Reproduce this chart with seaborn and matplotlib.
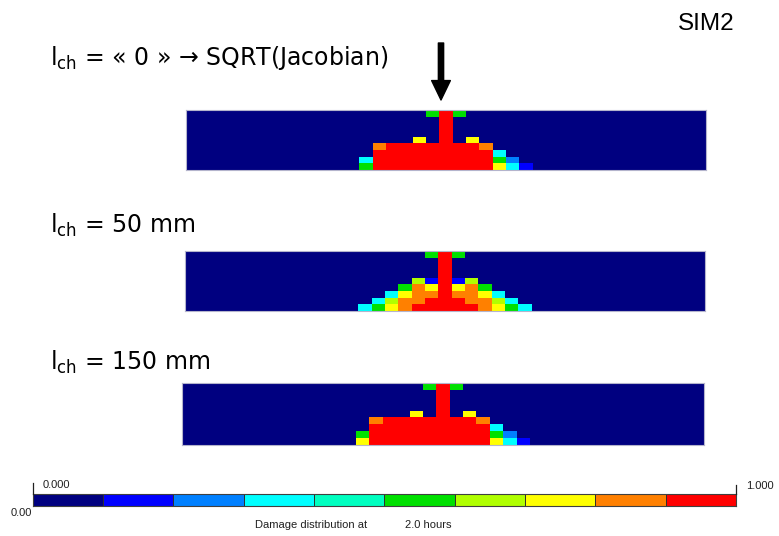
import matplotlib
matplotlib.use("Agg")
import matplotlib.pyplot as plt
import pandas as pd
import seaborn as sns
from matplotlib.colors import ListedColormap

# Damage band per element (0..9 = colour band of the legend), rows top -> bottom.
# Each string covers the middle elements 13..25 of the 39-element-long beam;
# the outer elements are undamaged.
beam_zero_rows = [
    "0000059500000",
    "0000009000000",
    "0000009000000",
    "0000009000000",
    "0000709070000",
    "0899999998000",
    "0999999999300",
    "3999999999520",
    "5999999999731",
]
beam_50mm_rows = [
    "0000059500000",
    "0000009000000",
    "0000009000000",
    "0000009000000",
    "0000619160000",
    "0005879785000",
    "0037889887300",
    "0368899988630",
    "3578999998753",
]
beam_150mm_rows = [
    "0000059500000",
    "0000009000000",
    "0000009000000",
    "0000009000000",
    "0000709070000",
    "0899999998000",
    "0999999999300",
    "5999999999520",
    "7999999999731",
]
beam_labels = [
    r"$l_{ch}$ = « 0 » → SQRT(Jacobian)",
    r"$l_{ch}$ = 50 mm",
    r"$l_{ch}$ = 150 mm",
]
legend_bands = [0, 1, 2, 3, 4, 5, 6, 7, 8, 9]
legend_min_label = "0.000"
legend_max_label = "1.000"
legend_floor_label = "0.00"
time_hours = "2.0"

PAD_COLS = 13
BAND_COLORS = ["#000080", "#0000ff", "#0080ff", "#00ffff", "#00ffc0",
               "#00e000", "#b0ff00", "#ffff00", "#ff8000", "#ff0000"]
W, H = 779, 536


def fig_box(left, top, right, bottom):
    return [left / W, 1 - bottom / H, (right - left) / W, (bottom - top) / H]


def fig_xy(x, y):
    return x / W, 1 - y / H


def rows_to_frame(rows):
    pad = "0" * PAD_COLS
    return pd.DataFrame([[int(ch) for ch in pad + row + pad] for row in rows])


plt.rcParams["font.family"] = ["DejaVu Sans"]
plt.rcParams["mathtext.default"] = "regular"
cmap = ListedColormap(BAND_COLORS)

fig = plt.figure(figsize=(W / 100, H / 100), dpi=100)

beams = [
    (beam_zero_rows, (186, 110, 706, 170), 58),
    (beam_50mm_rows, (185, 251, 705, 311), 225),
    (beam_150mm_rows, (182, 383, 704, 445), 362),
]
for (rows, box, label_y), label in zip(beams, beam_labels):
    ax = fig.add_axes(fig_box(*box))
    sns.heatmap(rows_to_frame(rows), ax=ax, cmap=cmap, vmin=-0.5, vmax=9.5,
                cbar=False, xticklabels=False, yticklabels=False)
    ax.set_xlabel("")
    ax.set_ylabel("")
    for spine in ax.spines.values():
        spine.set_visible(True)
        spine.set_color("#b4b4cc")
        spine.set_linewidth(0.8)
    fig.text(*fig_xy(50, label_y), label, fontsize=17, va="center", ha="left")

fig.text(*fig_xy(735, 24), "SIM2", fontsize=17.5, va="center", ha="right",
         family=["Liberation Sans", "DejaVu Sans"])

# load arrow above the first beam
fig.axes[0].annotate("", xy=fig_xy(441, 100), xytext=fig_xy(441, 43),
                     xycoords="figure fraction", textcoords="figure fraction",
                     annotation_clip=False,
                     arrowprops=dict(facecolor="black", edgecolor="black",
                                     width=3.8, headwidth=13.5, headlength=14))

# legend bar
cax = fig.add_axes(fig_box(32.5, 494, 736, 506))
sns.heatmap(pd.DataFrame([legend_bands]), ax=cax, cmap=cmap, vmin=-0.5, vmax=9.5,
            cbar=False, xticklabels=False, yticklabels=False,
            linewidths=0.7, linecolor="#303030")
for spine in cax.spines.values():
    spine.set_visible(True)
    spine.set_color("#404040")
    spine.set_linewidth(0.8)

small = dict(fontsize=8, va="center", ha="left", color="#202020",
             family=["Liberation Sans", "DejaVu Sans"])
for x_tick, y_top in [(32.5, 483), (736, 485)]:
    fig.add_artist(plt.Line2D([x_tick / W, x_tick / W],
                              [1 - y_top / H, 1 - 494 / H],
                              color="#202020", linewidth=0.9))
fig.text(*fig_xy(43, 485), legend_min_label, **small)
fig.text(*fig_xy(746, 486), legend_max_label, **small)
fig.text(*fig_xy(11, 513), legend_floor_label, **small)
fig.text(*fig_xy(255, 525), "Damage distribution at", **small)
fig.text(*fig_xy(405, 525), f"{time_hours} hours", **small)

fig.savefig("out.png", dpi=100)
